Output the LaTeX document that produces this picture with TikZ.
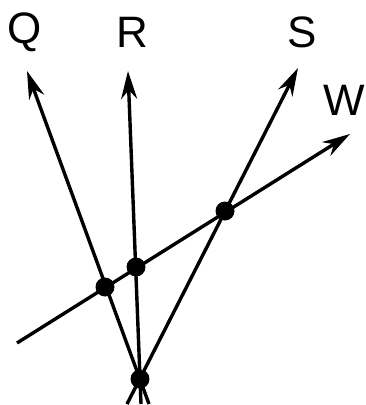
\documentclass[tikz,border=0pt]{standalone}
\usepackage{fontspec}
\setmainfont{Liberation Sans}
\usepackage{tikz}
\usetikzlibrary{arrows.meta}

\tikzset{
    ray/.style={line width=3.4pt, -{Stealth[length=28pt, width=16pt, inset=9pt]}},
    dot/.style={circle, fill=black, inner sep=0pt, minimum size=19pt},
    letter/.style={font=\fontsize{44}{44}\selectfont, inner sep=0pt}
}

\begin{document}
\begin{tikzpicture}[x=1pt, y=-1pt]

    \useasboundingbox (0,0) rectangle (365,405);

    % === ends of the rays (pixel coordinates, y downwards) ===
    \coordinate (qtail) at (149,404);
    \coordinate (qtip)  at (27,71);
    \coordinate (rtail) at (141,404);
    \coordinate (rtip)  at (128,71);
    \coordinate (stail) at (127,404);
    \coordinate (stip)  at (298,68);
    \coordinate (wtail) at (17,343);
    \coordinate (wtip)  at (350,134);

    % === rays ===
    \draw[ray] (qtail) -- (qtip);
    \draw[ray] (rtail) -- (rtip);
    \draw[ray] (stail) -- (stip);
    \draw[ray] (wtail) -- (wtip);

    % === points ===
    \node[dot] (o)  at (140,379) {};
    \node[dot] (qw) at (105,287) {};
    \node[dot] (rw) at (136,267) {};
    \node[dot] (sw) at (225,211) {};

    % === labels ===
    \node[letter] (Q) at (25,32) {Q};
    \node[letter] (R) at (132,32) {R};
    \node[letter] (S) at (302,32) {S};
    \node[letter, anchor=east] (W) at (365,100) {W};

\end{tikzpicture}
\end{document}
